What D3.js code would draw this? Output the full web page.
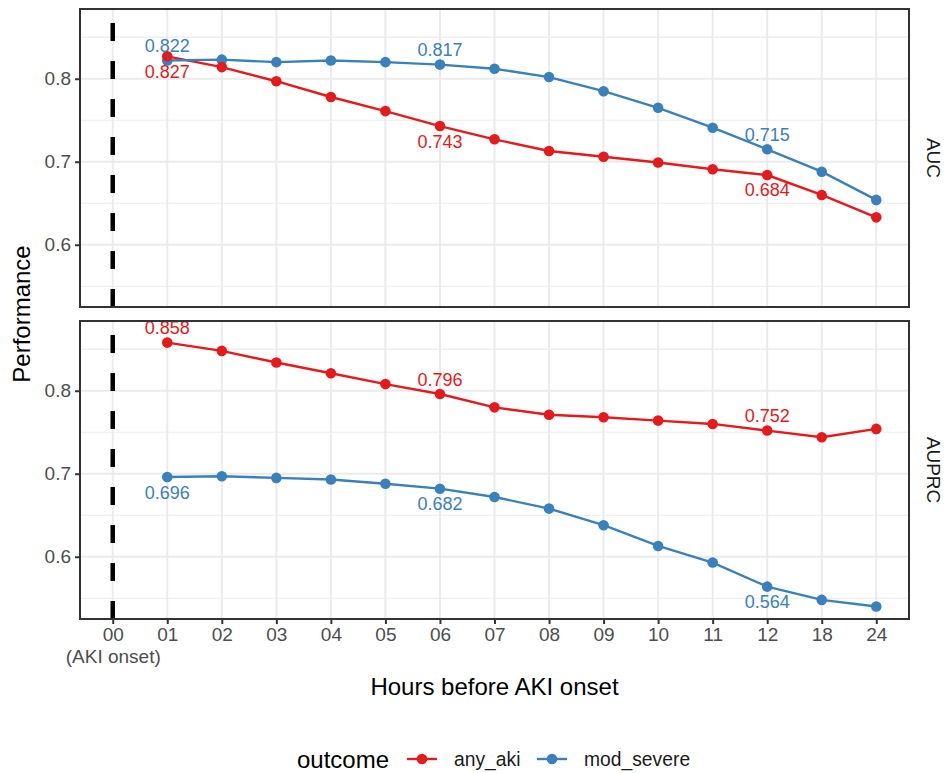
<!DOCTYPE html>
<html>
<head>
<meta charset="utf-8">
<script src="https://cdn.jsdelivr.net/npm/d3@7"></script>
<style>
  body { margin: 0; background: #fff; }
  text { font-family: "Liberation Sans", Arial, sans-serif; }
</style>
</head>
<body>
<svg width="948" height="773"></svg>
<script>
// hours before onset (x categories)
const hours = ["00", "01", "02", "03", "04", "05", "06", "07", "08", "09", "10", "11", "12", "18", "24"];
const metrics = ["AUC", "AUPRC"];
const outcomes = ["any_aki", "mod_severe"];
const yTicks = [0.6, 0.7, 0.8];
const yMinor = [0.55, 0.65, 0.75, 0.85];

// values for hours 01..24
const aucAnyAki = [0.827, 0.814, 0.797, 0.778, 0.761, 0.743, 0.727, 0.713, 0.706, 0.699, 0.691, 0.684, 0.660, 0.633];
const aucModSevere = [0.822, 0.823, 0.820, 0.822, 0.820, 0.817, 0.812, 0.802, 0.785, 0.765, 0.741, 0.715, 0.688, 0.654];
const auprcAnyAki = [0.858, 0.848, 0.834, 0.821, 0.808, 0.796, 0.780, 0.771, 0.768, 0.764, 0.760, 0.752, 0.744, 0.754];
const auprcModSevere = [0.696, 0.697, 0.695, 0.693, 0.688, 0.682, 0.672, 0.658, 0.638, 0.613, 0.593, 0.564, 0.548, 0.540];

// which hours get a text label
const labelHours = ["01", "06", "12"];

const colors = { any_aki: "#E41A1C", mod_severe: "#3A80BB" };

const series = {
    AUC: { any_aki: aucAnyAki, mod_severe: aucModSevere },
    AUPRC: { any_aki: auprcAnyAki, mod_severe: auprcModSevere }
};
// label goes above (-1) or below (+1) the point
const labelSide = {
    AUC: { any_aki: 1, mod_severe: -1 },
    AUPRC: { any_aki: -1, mod_severe: 1 }
};

const svg = d3.select("svg");
const left = 80, right = 909;
const panels = [{ key: "AUC", top: 9, bottom: 307 }, { key: "AUPRC", top: 321, bottom: 619 }];

const x = d3.scalePoint()
    .domain(hours)
    .range([left, right])
    .padding(0.6);

panels.forEach((p, pi) => {
    const y = d3.scaleLinear()
        .domain([0.525, 0.884])
        .range([p.bottom, p.top]);

    const g = svg.append("g");

    // grid
    g.selectAll("line.minor").data(yMinor).enter().append("line")
        .attr("x1", left).attr("x2", right)
        .attr("y1", d => y(d)).attr("y2", d => y(d))
        .attr("stroke", "#EBEBEB").attr("stroke-width", 1.2);
    g.selectAll("line.major").data(yTicks).enter().append("line")
        .attr("x1", left).attr("x2", right)
        .attr("y1", d => y(d)).attr("y2", d => y(d))
        .attr("stroke", "#EBEBEB").attr("stroke-width", 2);
    g.selectAll("line.vgrid").data(hours).enter().append("line")
        .attr("x1", d => x(d)).attr("x2", d => x(d))
        .attr("y1", p.top).attr("y2", p.bottom)
        .attr("stroke", "#EBEBEB").attr("stroke-width", 2);

    // onset marker, dashes start from the bottom
    g.append("line")
        .attr("x1", x("00")).attr("x2", x("00"))
        .attr("y1", p.bottom).attr("y2", p.top)
        .attr("stroke", "#000").attr("stroke-width", 4.5)
        .attr("stroke-dasharray", "18,20");

    const line = d3.line()
        .x((d, i) => x(hours[i + 1]))
        .y(d => y(d));

    // lines first, then points (red on top)
    outcomes.forEach(o => {
        g.append("path")
            .attr("d", line(series[p.key][o]))
            .attr("fill", "none")
            .attr("stroke", colors[o])
            .attr("stroke-width", 2.4);
    });

    outcomes.slice().reverse().forEach(o => {
        g.selectAll("circle." + o).data(series[p.key][o]).enter().append("circle")
            .attr("cx", (d, i) => x(hours[i + 1]))
            .attr("cy", d => y(d))
            .attr("r", 5.3)
            .attr("fill", colors[o]);
    });

    outcomes.forEach(o => {
        const labs = series[p.key][o].map((v, i) => ({ h: hours[i + 1], v: v }))
            .filter(d => labelHours.includes(d.h));
        g.selectAll("text." + o).data(labs).enter().append("text")
            .attr("x", d => x(d.h))
            .attr("y", d => y(d.v) + labelSide[p.key][o] * 15)
            .attr("dy", "0.36em")
            .attr("text-anchor", "middle")
            .attr("fill", colors[o])
            .attr("font-size", 18)
            .text(d => d.v.toFixed(3));
    });

    // border
    g.append("rect")
        .attr("x", left).attr("y", p.top)
        .attr("width", right - left).attr("height", p.bottom - p.top)
        .attr("fill", "none").attr("stroke", "#333").attr("stroke-width", 2);

    // y axis
    const yAxis = g.append("g")
        .attr("transform", `translate(${left},0)`)
        .call(d3.axisLeft(y).tickValues(yTicks).tickSize(5).tickPadding(4).tickFormat(d3.format(".1f")));
    yAxis.select(".domain").remove();
    yAxis.selectAll(".tick line").attr("stroke", "#333").attr("stroke-width", 2);
    yAxis.selectAll(".tick text").attr("fill", "#4D4D4D").attr("font-size", 19)
        .style("font-family", "'Liberation Sans', Arial, sans-serif");

    // strip label
    g.append("text")
        .attr("transform", `translate(934,${(p.top + p.bottom) / 2}) rotate(90)`)
        .attr("text-anchor", "middle")
        .attr("dy", "0.36em")
        .attr("fill", "#1A1A1A")
        .attr("font-size", 19)
        .text(p.key);

    if (pi === panels.length - 1) {
        const xAxis = g.append("g")
            .attr("transform", `translate(0,${p.bottom})`)
            .call(d3.axisBottom(x).tickSize(5).tickPadding(4));
        xAxis.select(".domain").remove();
        xAxis.selectAll(".tick line").attr("stroke", "#333").attr("stroke-width", 2);
        xAxis.selectAll(".tick text").attr("fill", "#4D4D4D").attr("font-size", 19)
            .style("font-family", "'Liberation Sans', Arial, sans-serif");
        xAxis.selectAll(".tick").filter(d => d === "00").select("text")
            .append("tspan").attr("x", 0).attr("dy", "1.15em").text("(AKI onset)");
    }
});

// axis titles
svg.append("text")
    .attr("x", (left + right) / 2).attr("y", 695)
    .attr("text-anchor", "middle")
    .attr("font-size", 24)
    .text("Hours before AKI onset");

svg.append("text")
    .attr("transform", `translate(30,${(panels[0].top + panels[1].bottom) / 2}) rotate(-90)`)
    .attr("text-anchor", "middle")
    .attr("font-size", 24)
    .text("Performance");

// legend
const legY = 759;
const legend = svg.append("g");
legend.append("text")
    .attr("x", 297).attr("y", legY).attr("dy", "0.36em")
    .attr("font-size", 24)
    .text("outcome");
const keyX = [407, 537];
outcomes.forEach((o, i) => {
    legend.append("line")
        .attr("x1", keyX[i]).attr("x2", keyX[i] + 30)
        .attr("y1", legY).attr("y2", legY)
        .attr("stroke", colors[o]).attr("stroke-width", 2.4);
    legend.append("circle")
        .attr("cx", keyX[i] + 15).attr("cy", legY).attr("r", 5.3)
        .attr("fill", colors[o]);
    legend.append("text")
        .attr("x", keyX[i] + 47).attr("y", legY).attr("dy", "0.36em")
        .attr("font-size", 19.3)
        .attr("fill", "#1A1A1A")
        .text(o);
});
</script>
</body>
</html>
